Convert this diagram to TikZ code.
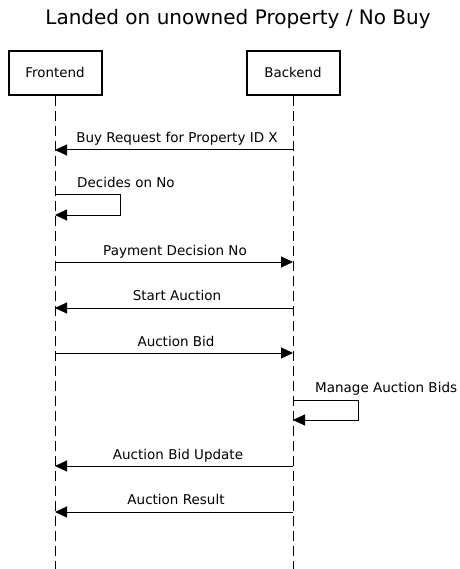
\documentclass[tikz,border=0pt]{standalone}
\usepackage{fontspec}
\setmainfont{DejaVu Sans}
\usetikzlibrary{arrows.meta}
\begin{document}
\begin{tikzpicture}[x=1pt,y=-1pt,
  actor/.style={draw,line width=2pt,minimum width=93pt,minimum height=44pt,inner sep=0pt,font=\fontsize{13.4}{15}\selectfont},
  life/.style={dash pattern=on 10pt off 5pt,line width=1pt},
  msg/.style={line width=1pt,-{Triangle[length=12pt,width=11pt]}},
  lbl/.style={font=\fontsize{13.5}{15}\selectfont,inner sep=0pt,anchor=base}]
\useasboundingbox (0,0) rectangle (459,569);
\node[font=\fontsize{20}{24}\selectfont,anchor=base] (title) at (238,25) {Landed on unowned Property / No Buy};
\node[actor] (fe) at (55,73) {Frontend};
\node[actor] (be) at (293,73) {Backend};
\coordinate (feEnd) at (55,569);
\coordinate (beEnd) at (293,569);
\draw[life] (fe.south) -- (feEnd);
\draw[life] (be.south) -- (beEnd);
% messages
\foreach \n/\y in {1/150,2a/195,2b/215,3/262,4/308,5/353,6a/400,6b/420,7/466,8/512}{
  \coordinate (f\n) at (55,\y);
  \coordinate (b\n) at (293,\y);
}
\coordinate (s2) at (120,195); \coordinate (t2) at (120,215);
\coordinate (s6) at (358,400); \coordinate (t6) at (358,420);
\draw[msg] (b1) -- (f1);
\node[lbl] (l1) at (177,143) {Buy Request for Property ID X};
\draw[msg] (f2a) -- (s2) -- (t2) -- (f2b);
\node[lbl,anchor=base west] (l2) at (77,188) {Decides on No};
\draw[msg] (f3) -- (b3);
\node[lbl] (l3) at (175,255) {Payment Decision No};
\draw[msg] (b4) -- (f4);
\node[lbl] (l4) at (177,300) {Start Auction};
\draw[msg] (f5) -- (b5);
\node[lbl] (l5) at (176,346) {Auction Bid};
\draw[msg] (b6a) -- (s6) -- (t6) -- (b6b);
\node[lbl,anchor=base west] (l6) at (315,392) {Manage Auction Bids};
\draw[msg] (b7) -- (f7);
\node[lbl] (l7) at (178,459) {Auction Bid Update};
\draw[msg] (b8) -- (f8);
\node[lbl] (l8) at (176,504) {Auction Result};
\end{tikzpicture}
\end{document}
